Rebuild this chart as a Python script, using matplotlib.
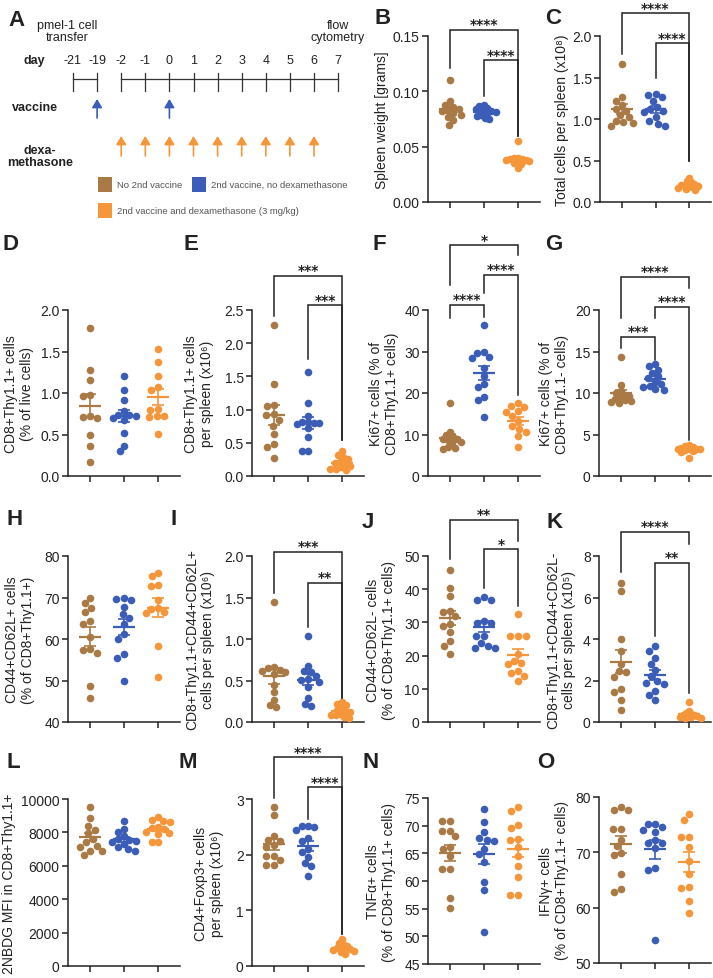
import numpy as np
import matplotlib
matplotlib.use("Agg")
import matplotlib.pyplot as plt
from matplotlib.patches import Rectangle, ArrowStyle

plt.rcParams['font.family'] = ['Liberation Sans', 'DejaVu Sans']

# ------------------------------------------------------------------ data
groups = ['No 2nd vaccine', '2nd vaccine, no dexamethasone',
          '2nd vaccine and dexamethasone (3 mg/kg)']

day_labels = ['-21', '-19', '-2', '-1', '0', '1', '2', '3', '4', '5', '6', '7']
vaccine_days = ['-19', '0']
dex_days = ['-2', '-1', '0', '1', '2', '3', '4', '5', '6']

spleen_weight = [
    [0.110, 0.091, 0.088, 0.086, 0.084, 0.083, 0.082, 0.080, 0.079, 0.077, 0.074, 0.070],
    [0.088, 0.087, 0.085, 0.084, 0.083, 0.082, 0.081, 0.080, 0.079, 0.078, 0.076, 0.075],
    [0.055, 0.040, 0.040, 0.039, 0.039, 0.038, 0.038, 0.037, 0.036, 0.035, 0.034, 0.031]]
total_cells = [
    [1.66, 1.27, 1.22, 1.17, 1.12, 1.10, 1.05, 1.02, 0.98, 0.96, 0.95, 0.92],
    [1.30, 1.29, 1.27, 1.22, 1.15, 1.12, 1.10, 1.08, 1.02, 0.98, 0.94, 0.92],
    [0.29, 0.25, 0.24, 0.22, 0.21, 0.20, 0.20, 0.19, 0.18, 0.17, 0.16, 0.15]]
thy_pct_live = [
    [1.78, 1.28, 1.16, 0.97, 0.96, 0.72, 0.71, 0.70, 0.49, 0.36, 0.17],
    [1.20, 1.04, 0.91, 0.78, 0.74, 0.73, 0.72, 0.70, 0.67, 0.52, 0.36, 0.30],
    [1.53, 1.37, 1.20, 1.07, 1.04, 0.81, 0.80, 0.72, 0.72, 0.71, 0.51]]
thy_per_spleen = [
    [2.27, 1.38, 1.07, 1.05, 0.93, 0.92, 0.84, 0.76, 0.63, 0.48, 0.43, 0.27],
    [1.56, 1.10, 0.91, 0.82, 0.81, 0.80, 0.80, 0.78, 0.72, 0.58, 0.38, 0.37],
    [0.38, 0.32, 0.29, 0.25, 0.22, 0.20, 0.18, 0.15, 0.13, 0.11, 0.10, 0.09]]
ki67_thy_pos = [
    [17.6, 10.5, 9.8, 9.4, 9.0, 8.8, 8.7, 8.2, 7.8, 6.9, 6.8, 6.4],
    [36.3, 29.8, 29.7, 28.6, 28.5, 26.0, 24.0, 22.2, 21.4, 19.0, 18.2, 14.2],
    [17.6, 16.8, 16.6, 15.6, 15.5, 14.4, 13.2, 12.0, 11.4, 10.5, 9.6, 6.9]]
ki67_thy_neg = [
    [14.3, 11.0, 10.3, 10.0, 9.8, 9.6, 9.4, 9.3, 9.1, 9.0, 8.9, 8.8],
    [13.5, 13.2, 12.8, 12.4, 12.0, 11.8, 11.3, 11.1, 10.9, 10.7, 10.5, 10.4],
    [3.7, 3.6, 3.5, 3.4, 3.3, 3.3, 3.2, 3.2, 3.1, 3.0, 2.9, 2.2]]
cm_pct = [
    [70.0, 68.6, 67.5, 66.4, 64.3, 63.5, 60.5, 57.5, 57.3, 56.6, 48.6, 45.8],
    [69.8, 69.7, 69.5, 67.8, 66.0, 65.0, 63.5, 61.2, 60.0, 56.3, 55.5, 49.8],
    [76.0, 75.2, 73.0, 72.8, 69.4, 67.4, 67.2, 66.6, 66.2, 58.4, 50.8]]
cm_per_spleen = [
    [1.45, 0.66, 0.65, 0.63, 0.62, 0.60, 0.58, 0.45, 0.36, 0.26, 0.20, 0.18],
    [1.04, 0.67, 0.61, 0.60, 0.55, 0.52, 0.51, 0.48, 0.42, 0.29, 0.22, 0.19],
    [0.24, 0.22, 0.20, 0.17, 0.15, 0.13, 0.12, 0.10, 0.09, 0.08, 0.06, 0.05]]
em_pct = [
    [45.7, 40.5, 38.0, 33.5, 33.0, 31.8, 29.5, 29.0, 27.0, 24.3, 23.0, 20.5],
    [37.8, 36.7, 36.7, 30.5, 29.8, 29.8, 25.8, 25.8, 23.7, 22.8, 22.3, 22.3],
    [32.4, 26.0, 25.9, 25.8, 20.5, 18.5, 17.8, 17.4, 15.5, 14.8, 14.0, 12.3]]
em_per_spleen = [
    [6.7, 6.3, 4.0, 3.4, 2.8, 2.45, 2.4, 2.15, 1.6, 1.45, 1.05, 0.58],
    [3.65, 3.4, 3.1, 2.8, 2.5, 2.2, 2.0, 1.9, 1.85, 1.5, 1.3, 1.05],
    [0.95, 0.55, 0.45, 0.40, 0.36, 0.33, 0.30, 0.28, 0.25, 0.22, 0.20, 0.18]]
nbdg_mfi = [
    [9500, 8840, 8400, 8160, 7940, 7600, 7400, 7200, 7150, 6900, 6860, 6640],
    [8700, 8200, 8050, 7800, 7600, 7550, 7500, 7450, 7300, 7100, 7000, 6900],
    [8900, 8750, 8700, 8600, 8300, 8250, 8200, 8050, 7950, 7900, 7450, 7420]]
treg_per_spleen = [
    [2.85, 2.71, 2.34, 2.27, 2.25, 2.17, 2.13, 1.98, 1.97, 1.90, 1.82, 1.82],
    [2.52, 2.51, 2.50, 2.45, 2.30, 2.25, 2.10, 2.05, 1.95, 1.85, 1.80, 1.62],
    [0.48, 0.42, 0.40, 0.36, 0.34, 0.32, 0.31, 0.30, 0.29, 0.27, 0.25, 0.22]]
tnf_pct = [
    [70.9, 70.9, 69.1, 69.1, 68.1, 66.1, 65.8, 64.6, 62.2, 62.2, 57.0, 55.1],
    [73.0, 70.7, 68.9, 67.8, 67.4, 67.3, 65.8, 64.8, 63.5, 59.8, 58.4, 50.7],
    [73.3, 72.6, 70.1, 69.6, 67.6, 67.4, 66.1, 64.5, 62.8, 60.8, 57.5, 57.4]]
ifn_pct = [
    [78.2, 77.6, 77.6, 74.2, 74.3, 72.3, 71.2, 69.8, 69.6, 66.1, 63.4, 62.9],
    [75.2, 75.1, 74.6, 74.0, 73.6, 72.2, 71.7, 71.6, 70.8, 67.2, 66.8, 54.1],
    [77.0, 75.9, 72.8, 72.7, 71.0, 68.5, 66.0, 63.8, 63.6, 61.2, 59.0]]

# ------------------------------------------------------------------ style
W, H = 713, 979
COLORS = ['#A97A45', '#3B5DB7', '#F6963B']
INK = '#222222'
fig = plt.figure(figsize=(W / 100, H / 100), dpi=100)


def frac_rect(left, top, right, bottom):
    return [left / W, 1 - bottom / H, (right - left) / W, (bottom - top) / H]


def swarm_px(values_px, d_px):
    order = np.argsort(-values_px)
    placed = []
    xs = np.zeros(len(values_px))
    for idx in order:
        y = values_px[idx]
        cands = [0.0]
        for px, py in placed:
            dy = y - py
            if abs(dy) < d_px:
                dx = np.sqrt(d_px ** 2 - dy ** 2)
                cands += [px + dx, px - dx]
        cands = sorted(cands, key=lambda c: (abs(c), c))
        chosen = 0.0
        for c in cands:
            if all((c - px) ** 2 + (y - py) ** 2 >= d_px ** 2 - 1e-6 for px, py in placed):
                chosen = c
                break
        placed.append((chosen, y))
        xs[idx] = chosen
    return xs


def swarm_offsets(values, px_per_y, px_per_x, d0=7.6, max_half=12.0):
    vpx = np.asarray(values, float) * px_per_y
    d = d0
    while True:
        xs = swarm_px(vpx, d)
        if np.max(np.abs(xs)) <= max_half or d < 2.5:
            break
        d -= 0.2
    return xs / px_per_x


panels = [
    dict(key='B', data=spleen_weight, rect=(428, 37, 540, 203), ylim=(0, 0.15),
         yticks=[0, 0.05, 0.10, 0.15], fmt='{:.2f}', ylabel='Spleen weight [grams]',
         lx=382, letter=(374, 19),
         brackets=[(0, 2, 0.1554, 0.1215, 0.060, '****'), (1, 2, 0.128, 0.096, 0.060, '****')]),
    dict(key='C', data=total_cells, rect=(600, 37, 711, 203), ylim=(0, 2.0),
         yticks=[0, 0.5, 1.0, 1.5, 2.0], fmt='{:.1f}', ylabel='Total cells per spleen (x10⁸)',
         lx=562, letter=(545, 19),
         brackets=[(0, 2, 2.272, 1.78, 0.50, '****'), (1, 2, 1.912, 1.488, 0.50, '****')]),
    dict(key='D', data=thy_pct_live, rect=(68, 311, 180, 477), ylim=(0, 2.0),
         yticks=[0, 0.5, 1.0, 1.5, 2.0], fmt='{:.1f}',
         ylabel='CD8+Thy1.1+ cells\n(% of live cells)', lx=19, letter=(3, 245), brackets=[]),
    dict(key='E', data=thy_per_spleen, rect=(252, 311, 364, 477), ylim=(0, 2.5),
         yticks=[0, 0.5, 1.0, 1.5, 2.0, 2.5], fmt='{:.1f}',
         ylabel='CD8+Thy1.1+ cells\nper spleen (x10⁶)', lx=199, letter=(183, 245),
         brackets=[(0, 2, 3.01, 2.41, 0.535, '***'), (1, 2, 2.57, 1.76, 0.535, '***')]),
    dict(key='F', data=ki67_thy_pos, rect=(428, 311, 540, 477), ylim=(0, 40),
         yticks=[0, 10, 20, 30, 40], fmt='{:.0f}',
         ylabel='Ki67+ cells (% of\nCD8+Thy1.1+ cells)', lx=384, letter=(373, 245),
         brackets=[(0, 1, 41.2, 38.0, 38.2, '****'), (1, 2, 48.4, 44.0, 19.6, '****'),
                   (0, 2, 55.6, 46.0, 53.2, '*')]),
    dict(key='G', data=ki67_thy_neg, rect=(599, 311, 711, 477), ylim=(0, 20),
         yticks=[0, 5, 10, 15, 20], fmt='{:.0f}',
         ylabel='Ki67+ cells (% of\nCD8+Thy1.1- cells)', lx=554, letter=(545, 245),
         brackets=[(0, 1, 16.8, 15.4, 14.0, '***'), (1, 2, 20.4, 19.0, 4.3, '****'),
                   (0, 2, 24.0, 19.0, 22.6, '****')]),
    dict(key='H', data=cm_pct, rect=(68, 557, 180, 723), ylim=(40, 80),
         yticks=[40, 50, 60, 70, 80], fmt='{:.0f}',
         ylabel='CD44+CD62L+ cells\n(% of CD8+Thy1.1+)', lx=20, letter=(7, 520), brackets=[]),
    dict(key='I', data=cm_per_spleen, rect=(252, 557, 364, 723), ylim=(0, 2.0),
         yticks=[0, 0.5, 1.0, 1.5, 2.0], fmt='{:.1f}',
         ylabel='CD8+Thy1.1+CD44+CD62L+\ncells per spleen (x10⁶)', lx=200, letter=(171, 520),
         brackets=[(0, 2, 2.05, 1.55, 0.27, '***'), (1, 2, 1.68, 1.15, 0.27, '**')]),
    dict(key='J', data=em_pct, rect=(428, 557, 540, 723), ylim=(0, 50),
         yticks=[0, 10, 20, 30, 40, 50], fmt='{:.0f}',
         ylabel='CD44+CD62L- cells\n(% of CD8+Thy1.1+ cells)', lx=381, letter=(362, 522),
         brackets=[(0, 2, 60.8, 49.0, 54.5, '**'), (1, 2, 52.0, 40.5, 35.0, '*')]),
    dict(key='K', data=em_per_spleen, rect=(599, 557, 711, 723), ylim=(0, 8),
         yticks=[0, 2, 4, 6, 8], fmt='{:.0f}',
         ylabel='CD8+Thy1.1+CD44+CD62L-\ncells per spleen (x10⁵)', lx=561, letter=(547, 522),
         brackets=[(0, 2, 9.17, 7.25, 8.6, '****'), (1, 2, 7.68, 4.13, 1.41, '**')]),
    dict(key='L', data=nbdg_mfi, rect=(68, 800, 180, 967), ylim=(0, 10000),
         yticks=[0, 2000, 4000, 6000, 8000, 10000], fmt='{:.0f}',
         ylabel='2NBDG MFI in CD8+Thy1.1+', lx=9, letter=(7, 763), brackets=[]),
    dict(key='M', data=treg_per_spleen, rect=(252, 800, 364, 967), ylim=(0, 3),
         yticks=[0, 1, 2, 3], fmt='{:.0f}',
         ylabel='CD4+Foxp3+ cells\nper spleen (x10⁶)', lx=209, letter=(178, 763),
         brackets=[(0, 2, 3.75, 3.01, 0.57, '****'), (1, 2, 3.21, 2.64, 0.57, '****')]),
    dict(key='N', data=tnf_pct, rect=(428, 799, 540, 965), ylim=(45, 75),
         yticks=[45, 50, 55, 60, 65, 70, 75], fmt='{:.0f}',
         ylabel='TNFα+ cells\n(% of CD8+Thy1.1+ cells)', lx=381, letter=(363, 763), brackets=[]),
    dict(key='O', data=ifn_pct, rect=(599, 798, 711, 964), ylim=(50, 80),
         yticks=[50, 60, 70, 80], fmt='{:.0f}',
         ylabel='IFNγ+ cells\n(% of CD8+Thy1.1+ cells)', lx=554, letter=(537, 763), brackets=[]),
]

XLIM = (-0.65, 2.65)

for p in panels:
    left, top, right, bottom = p['rect']
    ax = fig.add_axes(frac_rect(left, top, right, bottom))
    ax.set_xlim(*XLIM)
    ax.set_ylim(*p['ylim'])
    px_per_x = (right - left) / (XLIM[1] - XLIM[0])
    px_per_y = (bottom - top) / (p['ylim'][1] - p['ylim'][0])
    for gi, vals in enumerate(p['data']):
        vals = np.asarray(vals, float)
        offs = swarm_offsets(vals, px_per_y, px_per_x)
        ax.scatter(gi + offs, vals, s=30, color=COLORS[gi], linewidths=0, zorder=3,
                   clip_on=False)
        m = vals.mean()
        sem = vals.std(ddof=1) / np.sqrt(len(vals))
        ax.hlines(m, gi - 0.32, gi + 0.32, color=COLORS[gi], lw=1.6, zorder=4)
        ax.vlines(gi, m - sem, m + sem, color=COLORS[gi], lw=1.2, zorder=4)
        ax.hlines([m - sem, m + sem], gi - 0.17, gi + 0.17, color=COLORS[gi], lw=1.2, zorder=4)
    for (i, j, yb, yl, yr, lab) in p['brackets']:
        ax.plot([i, i, j, j], [yl, yb, yb, yr], color=INK, lw=1.1, clip_on=False,
                solid_joinstyle='miter', zorder=2)
        ax.annotate(lab, xy=((i + j) / 2, yb), xytext=(0, 1.2), textcoords='offset points',
                    ha='center', va='baseline', fontsize=10, fontweight='bold',
                    family='DejaVu Sans', color=INK, annotation_clip=False)
    for s in ['top', 'right']:
        ax.spines[s].set_visible(False)
    for s in ['left', 'bottom']:
        ax.spines[s].set_linewidth(1.1)
        ax.spines[s].set_color(INK)
    ax.set_xticks([0, 1, 2])
    ax.set_xticklabels([])
    ax.set_yticks(p['yticks'])
    ax.set_yticklabels([p['fmt'].format(t) for t in p['yticks']])
    ax.tick_params(axis='both', direction='out', length=4, width=1.1, color=INK,
                   labelsize=10, labelcolor=INK, pad=2)
    ax.patch.set_alpha(0)
    cy = 1 - ((top + bottom) / 2) / H
    fig.text(p['lx'] / W, cy, p['ylabel'], rotation=90, ha='center', va='center',
             fontsize=10, color=INK, multialignment='center', linespacing=1.15)
    fig.text(p['letter'][0] / W, 1 - p['letter'][1] / H, p['key'], fontsize=16,
             fontweight='bold', ha='left', va='center', color=INK)

# ------------------------------------------------------------------ panel A (schematic)
axA = fig.add_axes([0, 1 - 230 / H, 360 / W, 230 / H])
axA.set_xlim(0, 360)
axA.set_ylim(230, 0)
axA.axis('off')


def day_x(lbl):
    return 73 + day_labels.index(lbl) * 24.1


fig.text(8 / W, 1 - 20 / H, 'A', fontsize=16, fontweight='bold', ha='left', va='center',
         color=INK)
axA.text(67, 32, 'pmel-1 cell\ntransfer', ha='center', va='center', fontsize=9,
         color=INK, linespacing=1.1)
axA.text(338, 32, 'flow\ncytometry', ha='center', va='center', fontsize=9, color=INK,
         linespacing=1.1)
axA.text(34, 61, 'day', ha='center', va='center', fontsize=9, fontweight='bold', color=INK)
for lbl in day_labels:
    axA.text(day_x(lbl), 61, lbl, ha='center', va='center', fontsize=9, color=INK)
axA.plot([day_x('-21'), day_x('-19')], [80, 80], color='#333333', lw=0.9)
axA.plot([day_x('-2'), day_x('7')], [80, 80], color='#333333', lw=0.9)
for lbl in day_labels:
    axA.plot([day_x(lbl)] * 2, [74, 92], color='#333333', lw=0.9)

arrow_style = ArrowStyle('-|>', head_length=0.5, head_width=0.3)
axA.text(35, 108, 'vaccine', ha='center', va='center', fontsize=9, fontweight='bold', color=INK)
for lbl in vaccine_days:
    axA.annotate('', xy=(day_x(lbl), 100), xytext=(day_x(lbl), 119),
                 arrowprops=dict(arrowstyle=arrow_style, color=COLORS[1], lw=1.2,
                                 mutation_scale=10, shrinkA=0, shrinkB=0))
axA.text(40, 157, 'dexa-\nmethasone', ha='center', va='center', fontsize=9,
         fontweight='bold', color=INK, linespacing=1.1)
for lbl in dex_days:
    axA.annotate('', xy=(day_x(lbl), 137), xytext=(day_x(lbl), 157),
                 arrowprops=dict(arrowstyle=arrow_style, color=COLORS[2], lw=1.2,
                                 mutation_scale=10, shrinkA=0, shrinkB=0))
leg_pos = [(98, 185), (192, 185), (98, 211)]
for gi, (lx, ly) in enumerate(leg_pos):
    axA.add_patch(Rectangle((lx, ly - 7.5), 14, 15, color=COLORS[gi], lw=0))
    axA.text(lx + 19, ly, groups[gi], ha='left', va='center', fontsize=6.8, color='#555555')

fig.savefig('out.png', dpi=100)
